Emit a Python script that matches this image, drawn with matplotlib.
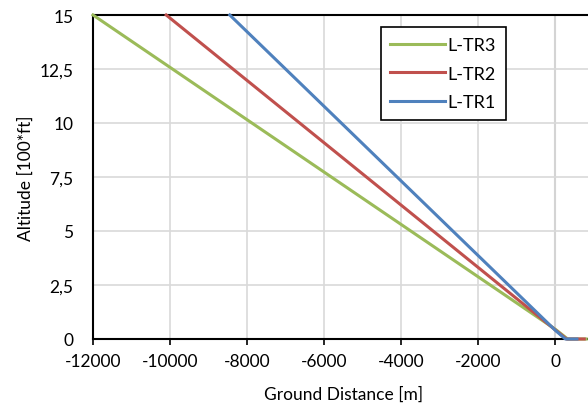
import matplotlib.pyplot as plt
from matplotlib.ticker import FuncFormatter

plt.rcParams['font.family'] = ['Lato', 'DejaVu Sans']
plt.rcParams['font.size'] = 12.5
plt.rcParams['axes.unicode_minus'] = False

# approach profiles: ground distance [m], altitude [100*ft]
series = ['L-TR3', 'L-TR2', 'L-TR1']
x_tr3 = [-12000, 0, 320, 800]
y_tr3 = [15, 0.45, 0, 0]
x_tr2 = [-10100, 0, 290, 750]
y_tr2 = [15, 0.42, 0, 0]
x_tr1 = [-8450, 0, 260, 560]
y_tr1 = [15, 0.40, 0, 0]
colors = ['#9BBB59', '#C0504D', '#4F81BD']

xticks = [-12000, -10000, -8000, -6000, -4000, -2000, 0]
yticks = [0, 2.5, 5, 7.5, 10, 12.5, 15]

fig = plt.figure(figsize=(5.88, 4.14), dpi=100)
ax = fig.add_axes([93 / 588, 74 / 414, 1 - 93 / 588 + 0.01, 324 / 414])

for xs, ys, name, c in zip([x_tr3, x_tr2, x_tr1], [y_tr3, y_tr2, y_tr1], series, colors):
    ax.plot(xs, ys, color=c, linewidth=2.2, label=name, clip_on=False, zorder=3)

ax.set_xlim(-12000, 1000)
ax.set_ylim(0, 15)
ax.set_xticks(xticks)
ax.set_yticks(yticks)
ax.yaxis.set_major_formatter(FuncFormatter(lambda v, p: f'{v:g}'.replace('.', ',')))
ax.grid(True, color='#D9D9D9', linewidth=1.2)
ax.axvline(0, color='#BFBFBF', linewidth=1.5, zorder=1)
for s in ['left', 'bottom', 'top']:
    ax.spines[s].set_linewidth(1.5)
    ax.spines[s].set_color('black')
ax.spines['right'].set_visible(False)
ax.tick_params(axis='x', length=4, width=1.2, pad=6)
ax.tick_params(axis='y', length=0, pad=14)
ax.set_xlabel('Ground Distance [m]', labelpad=12)
ax.set_ylabel('Altitude [100*ft]', labelpad=4)

leg = ax.legend(loc='upper left', bbox_to_anchor=(0.574, 0.963), frameon=True,
                fancybox=False, edgecolor='black', framealpha=1, fontsize=13,
                handlelength=3.0, handletextpad=0.15, borderpad=0.55,
                labelspacing=0.7, borderaxespad=0)
leg.get_frame().set_linewidth(1.2)

fig.savefig('out.png', dpi=100)
